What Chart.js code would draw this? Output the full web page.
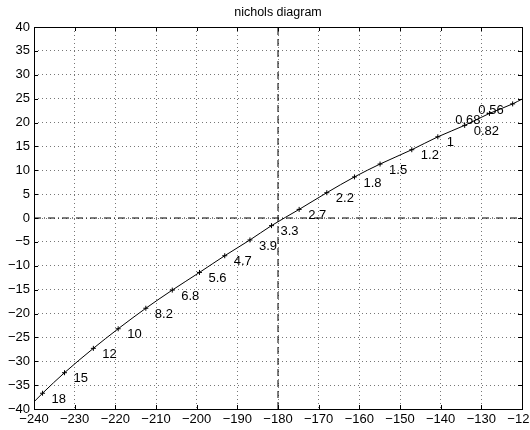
<!DOCTYPE html>
<html>
<head>
<meta charset="utf-8">
<script src="https://cdn.jsdelivr.net/npm/chart.js@4/dist/chart.umd.min.js"></script>
<style>
  html, body { margin: 0; padding: 0; background: #fff; }
</style>
</head>
<body>
<canvas id="nicholsChart" width="530" height="430"></canvas>
<script>
// frequency marks along the curve (phase in degrees, gain in dB)
const freqLabels = ['18', '15', '12', '10', '8.2', '6.8', '5.6', '4.7', '3.9', '3.3',
                    '2.7', '2.2', '1.8', '1.5', '1.2', '1', '0.82', '0.68', '0.56'];
const phaseDeg = [-237.9, -232.5, -225.4, -219.3, -212.5, -206.0, -199.3, -193.1, -186.9, -181.6,
                  -174.8, -168.0, -161.2, -154.9, -147.1, -140.7, -134.1, -128.0, -122.3];
const gainDb = [-36.7, -32.4, -27.3, -23.2, -18.9, -15.1, -11.4, -7.9, -4.6, -1.6,
                1.8, 5.3, 8.6, 11.3, 14.3, 17.0, 19.4, 21.9, 23.9];

// where the curve leaves the axes
const curveStart = { x: -240, y: -38.5 };
const curveEnd = { x: -120, y: 24.9 };

// critical point lines
const criticalPhase = -180;
const criticalGain = 0;

const xRange = [-240, -120];
const yRange = [-40, 40];
const xStep = 10;
const yStep = 5;

const marks = phaseDeg.map((p, i) => ({ x: p, y: gainDb[i] }));
const curve = [curveStart].concat(marks, [curveEnd]);

const FONT = '"Liberation Sans", Arial, Helvetica, sans-serif';
const minus = v => String(v).replace('-', '\u2212');

// box around the plot with ticks pointing inwards on all four sides
const framePlugin = {
    id: 'frame',
    afterDraw(chart) {
        const { ctx, chartArea: a, scales } = chart;
        ctx.save();
        ctx.strokeStyle = '#000';
        ctx.lineWidth = 1;
        ctx.beginPath();
        for (let v = xRange[0]; v <= xRange[1]; v += xStep) {
            const px = Math.round(scales.x.getPixelForValue(v)) + 0.5;
            ctx.moveTo(px, a.bottom); ctx.lineTo(px, a.bottom - 4);
            ctx.moveTo(px, a.top); ctx.lineTo(px, a.top + 4);
        }
        for (let v = yRange[0]; v <= yRange[1]; v += yStep) {
            const py = Math.round(scales.y.getPixelForValue(v)) + 0.5;
            ctx.moveTo(a.left, py); ctx.lineTo(a.left + 4, py);
            ctx.moveTo(a.right, py); ctx.lineTo(a.right - 4, py);
        }
        ctx.stroke();
        ctx.strokeRect(Math.round(a.left) + 0.5, Math.round(a.top) + 0.5,
                       Math.round(a.right - a.left), Math.round(a.bottom - a.top));
        ctx.restore();
    }
};

// frequency text next to each mark, flipped to the left near the right edge
const freqLabelPlugin = {
    id: 'freqLabels',
    afterDatasetsDraw(chart) {
        const { ctx, chartArea: a } = chart;
        const meta = chart.getDatasetMeta(1);
        ctx.save();
        ctx.font = '13px ' + FONT;
        ctx.fillStyle = '#000';
        ctx.textBaseline = 'middle';
        meta.data.forEach((pt, i) => {
            const txt = freqLabels[i];
            const w = ctx.measureText(txt).width;
            if (pt.x + 9 + w > a.right - 5) {
                ctx.textAlign = 'right';
                ctx.fillText(txt, pt.x - 9, pt.y + 7);
            } else {
                ctx.textAlign = 'left';
                ctx.fillText(txt, pt.x + 9, pt.y + 6);
            }
        });
        ctx.restore();
    }
};

const ctx = document.getElementById('nicholsChart').getContext('2d');

new Chart(ctx, {
    type: 'scatter',
    data: {
        datasets: [{
            label: 'curve',
            data: curve,
            showLine: true,
            borderColor: '#000',
            borderWidth: 1,
            pointRadius: 0,
            cubicInterpolationMode: 'monotone',
            order: 1
        }, {
            label: 'marks',
            data: marks,
            showLine: false,
            pointStyle: 'cross',
            pointRadius: 2.5,
            borderColor: '#000',
            borderWidth: 1,
            order: 0
        }, {
            label: 'phase -180',
            data: [{ x: criticalPhase, y: yRange[0] }, { x: criticalPhase, y: yRange[1] }],
            showLine: true,
            borderColor: '#000',
            borderWidth: 1,
            borderDash: [7, 4],
            pointRadius: 0,
            order: 2
        }, {
            label: 'gain 0',
            data: [{ x: xRange[0], y: criticalGain }, { x: xRange[1], y: criticalGain }],
            showLine: true,
            borderColor: '#000',
            borderWidth: 1,
            borderDash: [7, 3, 1, 3],
            pointRadius: 0,
            order: 2
        }]
    },
    options: {
        responsive: false,
        animation: false,
        layout: { padding: { top: 0, right: 8, left: 0, bottom: 0 } },
        plugins: {
            legend: { display: false },
            tooltip: { enabled: false },
            title: {
                display: true,
                fullSize: false,
                text: 'nichols diagram',
                color: '#000',
                font: { family: FONT, size: 12.5, weight: 'normal', lineHeight: 1.2 },
                padding: { top: 5, bottom: 7 }
            }
        },
        scales: {
            x: {
                type: 'linear',
                min: xRange[0],
                max: xRange[1],
                ticks: {
                    stepSize: xStep,
                    color: '#000',
                    padding: 3,
                    maxRotation: 0,
                    font: { family: FONT, size: 13 },
                    callback: v => minus(v)
                },
                grid: { color: '#777', drawTicks: false },
                border: { display: false, dash: [1, 3] },
                afterFit(scale) {
                    scale.height = 21;
                    scale.paddingLeft = 0;
                    scale.paddingRight = 0;
                }
            },
            y: {
                type: 'linear',
                min: yRange[0],
                max: yRange[1],
                ticks: {
                    stepSize: yStep,
                    color: '#000',
                    padding: 4,
                    font: { family: FONT, size: 13 },
                    callback: v => minus(v)
                },
                grid: { color: '#777', drawTicks: false },
                border: { display: false, dash: [1, 3] },
                afterFit(scale) {
                    scale.width = 34;
                    scale.paddingTop = 0;
                    scale.paddingBottom = 0;
                }
            }
        }
    },
    plugins: [framePlugin, freqLabelPlugin]
});
</script>
</body>
</html>
